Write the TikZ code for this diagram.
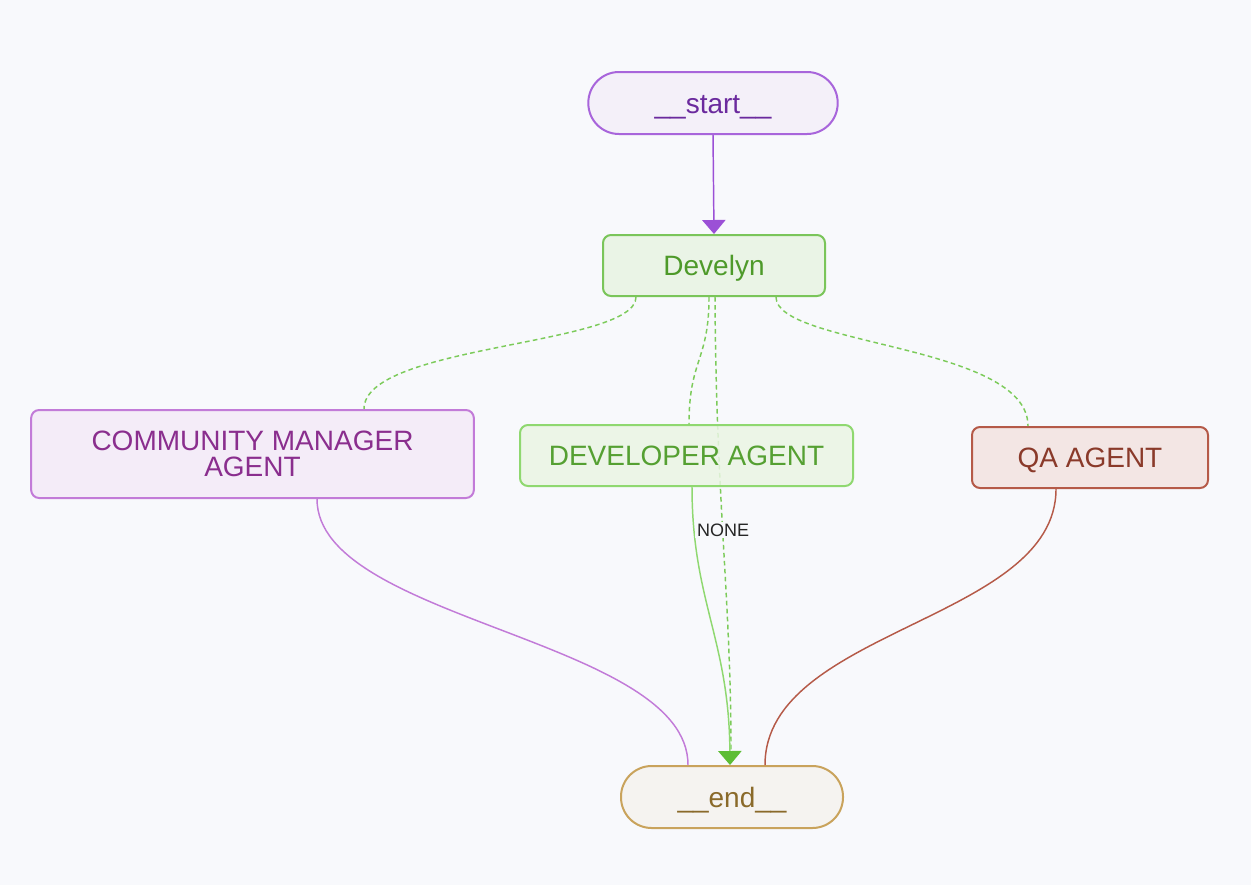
\documentclass[tikz,border=0pt]{standalone}
\usepackage{fontspec}
\setmainfont{Liberation Sans}
\usetikzlibrary{calc,arrows.meta}
\definecolor{bg}{HTML}{F8F9FC}
\definecolor{stfill}{HTML}{F4F0F9}\definecolor{stdraw}{HTML}{A865DB}\definecolor{sttext}{HTML}{6B2A9E}
\definecolor{dvfill}{HTML}{EAF4E6}\definecolor{dvdraw}{HTML}{7AC55A}\definecolor{dvtext}{HTML}{4E9A2A}
\definecolor{cmfill}{HTML}{F4ECF8}\definecolor{cmdraw}{HTML}{C27BD8}\definecolor{cmtext}{HTML}{8A2E8E}
\definecolor{dafill}{HTML}{EAF5E4}\definecolor{dadraw}{HTML}{8FD870}\definecolor{datext}{HTML}{55A032}
\definecolor{qafill}{HTML}{F3E6E4}\definecolor{qadraw}{HTML}{B55A48}\definecolor{qatext}{HTML}{8A3A2A}
\definecolor{enfill}{HTML}{F5F3F0}\definecolor{endraw}{HTML}{C9A35C}\definecolor{entext}{HTML}{8A6A2A}
\definecolor{edgegreen}{HTML}{8FD870}\definecolor{dashgreen}{HTML}{7CCB5A}\definecolor{arrowgreen}{HTML}{5DBD35}
\definecolor{startedge}{HTML}{9B50D6}
\begin{document}
\begin{tikzpicture}[x=0.75pt,y=-0.75pt,
  base/.style={line width=1.5pt,font=\fontsize{21}{19.5}\selectfont,inner sep=0pt,align=center},
  oneline/.style={text height=15pt,text depth=0pt},
  pill/.style={base,oneline,rounded corners=23pt},
  boxnode/.style={base,rounded corners=6pt},
  dashedge/.style={draw=dashgreen,line width=1.1pt,dash pattern=on 3.5pt off 2.5pt},
  solidedge/.style={line width=1.1pt}]
\fill[bg] (0,0) rectangle (1251,885);
\useasboundingbox (0,0) rectangle (1251,885);

\node[pill,draw=stdraw,fill=stfill,text=sttext,minimum width=187pt,minimum height=46.5pt] (start) at (713,103) {\_\_start\_\_};
\node[boxnode,oneline,draw=dvdraw,fill=dvfill,text=dvtext,minimum width=166.5pt,minimum height=45.75pt] (develyn) at (714,265.5) {Develyn};
\node[pill,draw=endraw,fill=enfill,text=entext,minimum width=166.5pt,minimum height=46.5pt] (end) at (732,797) {\_\_end\_\_};

% edge drawn behind the developer box
\draw[dashedge] ($(develyn.south)+(1,0)$) .. controls ($(develyn.south)+(2,204)$) and ($(end.north)+(-1,-166)$) .. ($(end.north)+(-1,-14)$);

\node[boxnode,draw=cmdraw,fill=cmfill,text=cmtext,minimum width=332pt,minimum height=66pt] (cm) at (252.5,454) {COMMUNITY MANAGER\\AGENT};
\node[boxnode,oneline,draw=dadraw,fill=dafill,text=datext,minimum width=249.75pt,minimum height=45.75pt,fill opacity=0.85,text opacity=1,draw opacity=1] (dev) at (686.5,455.5) {DEVELOPER AGENT};
\node[boxnode,oneline,draw=qadraw,fill=qafill,text=qatext,minimum width=177pt,minimum height=45.75pt] (qa) at (1090,457.5) {QA AGENT};

\draw[solidedge,draw=startedge,-{Triangle[length=10.5pt,width=17.5pt,fill=startedge]}] (start.south) -- (develyn.north);

\draw[dashedge] ($(develyn.south)+(-78,0)$) .. controls ($(develyn.south)+(-78,49)$) and ($(cm.north)+(111.5,-65)$) .. ($(cm.north)+(111.5,0)$);
\draw[dashedge] ($(develyn.south)+(-5,0)$) .. controls ($(develyn.south)+(-5,64)$) and ($(dev.north)+(2.5,-65)$) .. ($(dev.north)+(2.5,0)$);
\draw[dashedge] ($(develyn.south)+(62,0)$) .. controls ($(develyn.south)+(62,49)$) and ($(qa.north)+(-62,-82)$) .. ($(qa.north)+(-62,0)$);

\draw[solidedge,draw=cmdraw] ($(cm.south)+(64.5,0)$) .. controls ($(cm.south)+(64.5,122)$) and ($(end.north)+(-44,-126)$) .. ($(end.north)+(-44,0)$);
\draw[solidedge,draw=qadraw] ($(qa.south)+(-34,0)$) .. controls ($(qa.south)+(-34,132)$) and ($(end.north)+(33,-136)$) .. ($(end.north)+(33,0)$);
\draw[solidedge,draw=edgegreen,-{Triangle[length=10.5pt,width=17.5pt,color=arrowgreen,fill=arrowgreen]}] ($(dev.south)+(5.5,0)$) .. controls ($(dev.south)+(5.5,114)$) and ($(end.north)+(-3,-126)$) .. ($(end.north)+(-2,0)$);

\node[fill=bg,inner sep=1.5pt,font=\fontsize{13.5}{14}\selectfont,text={black!85}] (none) at (723,530) {NONE};
\end{tikzpicture}
\end{document}
